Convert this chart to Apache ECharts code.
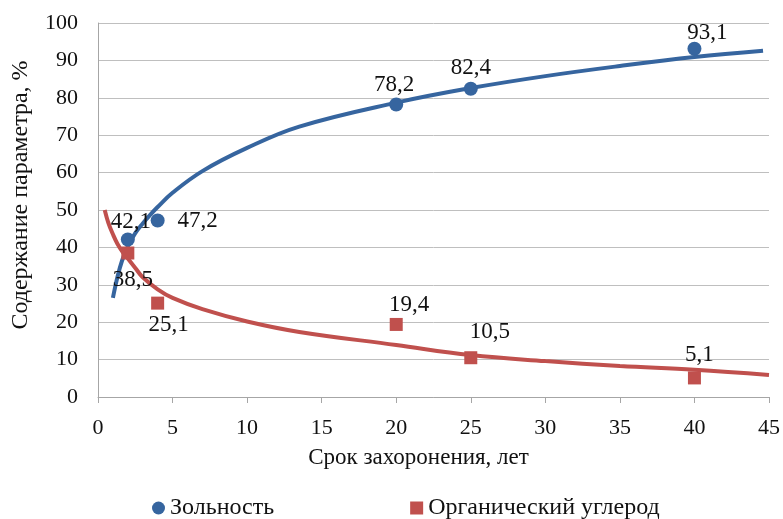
<!DOCTYPE html>
<html>
<head>
<meta charset="utf-8">
<script src="https://cdn.jsdelivr.net/npm/echarts@6/dist/echarts.min.js"></script>
<style>html,body{margin:0;padding:0;background:#fff}#c{width:783px;height:519px}</style>
</head>
<body>
<div id="c"></div>
<script>
// Data
const ashYears = [2, 4, 20, 25, 40];
const ashValues = [42.1, 47.2, 78.2, 82.4, 93.1];
const carbonYears = [2, 4, 20, 25, 40];
const carbonValues = [38.5, 25.1, 19.4, 10.5, 5.1];
// Trend lines
const ashTrendX = [1, 1.3, 1.6, 2, 2.5, 3, 3.5, 4, 5, 7, 10, 13.5, 20, 25, 30, 35, 40, 44.6];
const ashTrendY = [26.5, 32, 36.3, 40.3, 43.8, 46.4, 48.7, 50.8, 54.6, 60.4, 66.6, 72.3, 78.7, 82.6, 85.8, 88.5, 90.9, 92.6];
const carbonTrendX = [0.45, 0.7, 1, 1.3, 1.7, 2, 2.5, 3, 4, 5, 7, 10, 13.5, 20, 25, 30, 35, 40, 45];
const carbonTrendY = [50, 46.5, 43.5, 41, 38.5, 37, 34.5, 32, 28.8, 26.5, 23.5, 20.2, 17.4, 13.9, 11.2, 9.6, 8.3, 7.3, 5.9];
const xTicks = [0, 5, 10, 15, 20, 25, 30, 35, 40, 45];
const yTicks = [0, 10, 20, 30, 40, 50, 60, 70, 80, 90, 100];

// label offsets (styling)
const ashLabelOffsets = [[3, -18], [40, 0], [-2, -20], [0, -21], [13, -16]];
const carbonLabelOffsets = [[5, 27], [11, 22], [13, -19], [19, -26], [5, -23]];

const BLUE = '#36659f';
const RED = '#c0504d';
const FONT = '"Liberation Serif", "DejaVu Serif", serif';
const fmt = v => String(v).replace('.', ',');

function pts(xs, ys, offs) {
  return xs.map((x, i) => {
    const item = { value: [x, ys[i]] };
    if (offs) item.label = { offset: offs[i] };
    return item;
  });
}

const chart = echarts.init(document.getElementById('c'), null, { renderer: 'canvas' });
chart.setOption({
  animation: false,
  backgroundColor: '#fff',
  textStyle: { fontFamily: FONT },
  grid: { left: 98, right: 13, top: 23, bottom: 122, containLabel: false },
  legend: {
    data: ['Зольность', 'Органический углерод'],
    left: 147, top: 491,
    itemWidth: 13, itemHeight: 13, itemGap: 136,
    textStyle: { fontFamily: FONT, fontSize: 24, color: '#111' }
  },
  xAxis: {
    type: 'value', min: 0, max: 45, interval: 5,
    name: 'Срок захоронения, лет', nameLocation: 'middle', nameGap: 49,
    nameTextStyle: { fontFamily: FONT, fontSize: 23, color: '#111', padding: [0, 30, 0, 0] },
    axisLine: { show: true, lineStyle: { color: '#a6a6a6', width: 1 } },
    axisTick: { show: true, length: 6, lineStyle: { color: '#a6a6a6' } },
    axisLabel: { fontFamily: FONT, fontSize: 22, color: '#111', margin: 20,
      formatter: v => xTicks.includes(v) ? String(v) : '' },
    splitLine: { show: false }
  },
  yAxis: {
    type: 'value', min: 0, max: 100, interval: 10,
    name: 'Содержание параметра, %', nameLocation: 'middle', nameGap: 65, nameRotate: 90,
    nameTextStyle: { fontFamily: FONT, fontSize: 24, color: '#111', padding: [0, 0, 0, 30] },
    axisLine: { show: true, lineStyle: { color: '#a6a6a6', width: 1 } },
    axisTick: { show: false },
    axisLabel: { fontFamily: FONT, fontSize: 22, color: '#111', margin: 20,
      formatter: v => yTicks.includes(v) ? String(v) : '' },
    splitLine: { show: true, lineStyle: { color: '#bfbfbf', width: 1 } }
  },
  series: [
    {
      name: 'ash-trend', type: 'line', smooth: 0.4, symbol: 'none', z: 2,
      lineStyle: { color: BLUE, width: 4 }, itemStyle: { color: BLUE },
      data: ashTrendX.map((x, i) => [x, ashTrendY[i]])
    },
    {
      name: 'carbon-trend', type: 'line', smooth: 0.4, symbol: 'none', z: 2,
      lineStyle: { color: RED, width: 4 }, itemStyle: { color: RED },
      data: carbonTrendX.map((x, i) => [x, carbonTrendY[i]])
    },
    {
      name: 'Зольность', type: 'scatter', symbol: 'circle', symbolSize: 14, z: 3,
      itemStyle: { color: BLUE, opacity: 1 },
      label: { show: true, position: 'inside', color: '#111', fontFamily: FONT, fontSize: 23,
        formatter: p => fmt(p.value[1]) },
      data: pts(ashYears, ashValues, ashLabelOffsets)
    },
    {
      name: 'Органический углерод', type: 'scatter', symbol: 'rect', symbolSize: 13, z: 3,
      itemStyle: { color: RED, opacity: 1 },
      label: { show: true, position: 'inside', color: '#111', fontFamily: FONT, fontSize: 23,
        formatter: p => fmt(p.value[1]) },
      data: pts(carbonYears, carbonValues, carbonLabelOffsets)
    }
  ]
});
</script>
</body>
</html>
